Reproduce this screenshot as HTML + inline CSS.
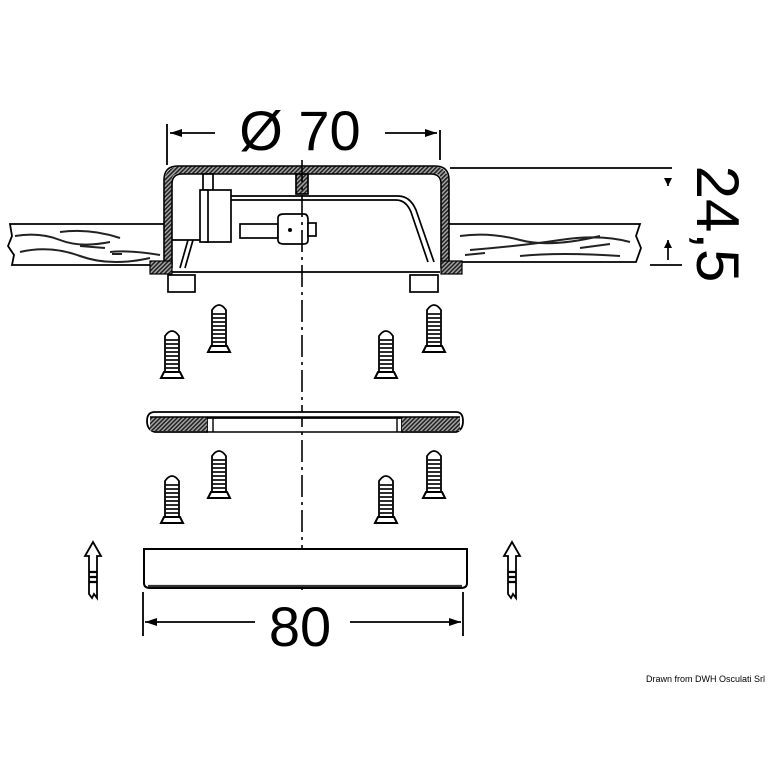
<!DOCTYPE html>
<html><head><meta charset="utf-8"><style>
html,body{margin:0;padding:0;background:#fff}
svg{display:block}
text{font-family:"Liberation Sans",sans-serif;fill:#000}
</style></head><body>
<svg width="768" height="768" viewBox="0 0 768 768" xmlns="http://www.w3.org/2000/svg">
<defs>
<pattern id="h" width="3" height="3" patternUnits="userSpaceOnUse" patternTransform="rotate(45)">
<rect width="3" height="3" fill="#aaa"/><rect width="1.6" height="3" fill="#222"/></pattern>
<g id="screw">
<path d="M-7,40 L-7,4 Q0,-6 7,4 L7,40 Z" fill="#fff" stroke="#000" stroke-width="1.8"/>
<path d="M-7,8h14M-7,12h14M-7,16h14M-7,20h14M-7,24h14M-7,28h14M-7,32h14M-7,36h14" stroke="#111" stroke-width="1.8"/>
<path d="M-11,46 L-8,40 L8,40 L11,46 Z" fill="#fff" stroke="#000" stroke-width="2"/>
</g>
<g id="arr">
<path d="M0,0 L8,14 L4,14 L4,56 L1,52 L-1,56 L-4,52 L-4,14 L-8,14 Z" fill="#fff" stroke="#000" stroke-width="1.8"/>
<path d="M-4,30h8M-4,35h8M-4,40h8" stroke="#000" stroke-width="2.2"/>
</g>
</defs>

<g stroke="#000" stroke-width="1.8" fill="none">
<path d="M167,124V165M440,130V160M170,133H215M385,133H437"/>
</g>
<path d="M170,133l12,-4v8z M437,133l-12,-4v8z" fill="#000"/>
<text x="300" y="150" font-size="56" text-anchor="middle">Ø 70</text>

<g fill="#fff" stroke="#000" stroke-width="1.8">
<path d="M10,224 L165,224 L165,265 L12,265 L14,255 L8,246 L12,236 Z"/>
<path d="M448,224 L640,224 L636,236 L641,248 L636,262 L448,262 Z"/>
</g>
<g fill="none" stroke="#222" stroke-width="2">
<path d="M15,236 Q40,232 60,240 T110,242 M20,252 Q50,245 80,256 T150,258 M60,232 Q90,228 120,238 M110,252 Q130,250 160,255 M80,246l25,2 M112,254l10,0"/>
<path d="M460,236 Q490,232 520,240 T600,236 M470,250 Q520,246 560,240 T630,242 M520,256 Q560,252 620,256 M465,255l20,-2 M580,248l30,-4"/>
</g>

<path d="M168,268 V182 Q168,170 180,170 H433 Q445,170 445,182 V268" fill="none" stroke="url(#h)" stroke-width="7"/>
<path d="M164,268 V180 Q164,166 178,166 H435 Q449,166 449,180 V268 M172,268 V184 Q172,174 182,174 H431 Q441,174 441,184 V268" fill="none" stroke="#000" stroke-width="1.6"/>
<rect x="150" y="261" width="22" height="13" fill="url(#h)" stroke="#000" stroke-width="1.2"/>
<rect x="441" y="261" width="21" height="13" fill="url(#h)" stroke="#000" stroke-width="1.2"/>
<g fill="#fff" stroke="#000" stroke-width="1.7">
<rect x="168" y="275" width="27" height="17"/>
<rect x="410" y="275" width="28" height="17"/>
<rect x="203" y="174" width="10" height="20"/>
<rect x="205" y="190" width="26" height="52"/>
<rect x="200" y="190" width="8" height="52"/>
<rect x="240" y="224" width="38" height="14"/>
<path d="M278,218 Q278,214 284,214 H304 Q308,214 308,220 V240 Q308,244 304,244 H284 Q278,244 278,240 Z"/>
<rect x="308" y="223" width="8" height="13"/>
<rect x="296" y="174" width="12" height="20" fill="url(#h)"/>
</g>
<g fill="none" stroke="#000" stroke-width="1.7">
<path d="M231,196 H398 Q410,196 416,210 L434,262 M231,200 H396 Q406,200 411,212 L428,262"/>
<path d="M172,240 H200 M188,240 L180,268 M193,240 L185,268"/>
<path d="M172,272 H440"/>
</g>
<circle cx="290" cy="230" r="2" fill="#000"/>

<g stroke="#000" stroke-width="1.7" fill="none">
<path d="M450,168 H672 M650,265 H682 M668,186 V178 M668,240 V260"/>
</g>
<path d="M668,186l-4,-8h8z M668,240l-4,8h8z" fill="#000"/>
<text transform="translate(697,224) rotate(90)" font-size="60" text-anchor="middle">24,5</text>

<path d="M302,160 V590" stroke="#000" stroke-width="1.6" stroke-dasharray="22,5,3,5" fill="none"/>

<use href="#screw" x="172" y="332"/>
<use href="#screw" x="219" y="306"/>
<use href="#screw" x="386" y="332"/>
<use href="#screw" x="434" y="306"/>
<use href="#screw" x="172" y="477"/>
<use href="#screw" x="219" y="452"/>
<use href="#screw" x="386" y="477"/>
<use href="#screw" x="434" y="452"/>

<path d="M155,412 H456 Q463,412 463,421 Q463,430 456,432 H402 V418 H207 V432 H155 Q147,430 147,421 Q147,412 155,412 Z" fill="#fff" stroke="#000" stroke-width="1.8"/>
<rect x="150" y="417" width="57" height="14" fill="url(#h)"/>
<rect x="402" y="417" width="58" height="14" fill="url(#h)"/>
<path d="M150,417 H460 M207,432 H402 M213,418 V432 M397,418 V432" stroke="#000" stroke-width="1.4" fill="none"/>

<path d="M144,549 H467 V583 Q467,588 461,588 H150 Q144,588 144,583 Z" fill="#fff" stroke="#000" stroke-width="2"/>
<path d="M148,586 H462" stroke="#333" stroke-width="2.2"/>

<use href="#arr" x="93" y="542"/>
<use href="#arr" x="512" y="542"/>

<g stroke="#000" stroke-width="1.8" fill="none">
<path d="M143,592V636M463,592V636M145,622H255M350,622H461"/>
</g>
<path d="M145,622l12,-4v8z M461,622l-12,-4v8z" fill="#000"/>
<text x="300" y="646" font-size="56" text-anchor="middle">80</text>

<text x="765" y="682" font-size="9" text-anchor="end">Drawn from DWH Osculati Srl</text>
</svg>
</body></html>
